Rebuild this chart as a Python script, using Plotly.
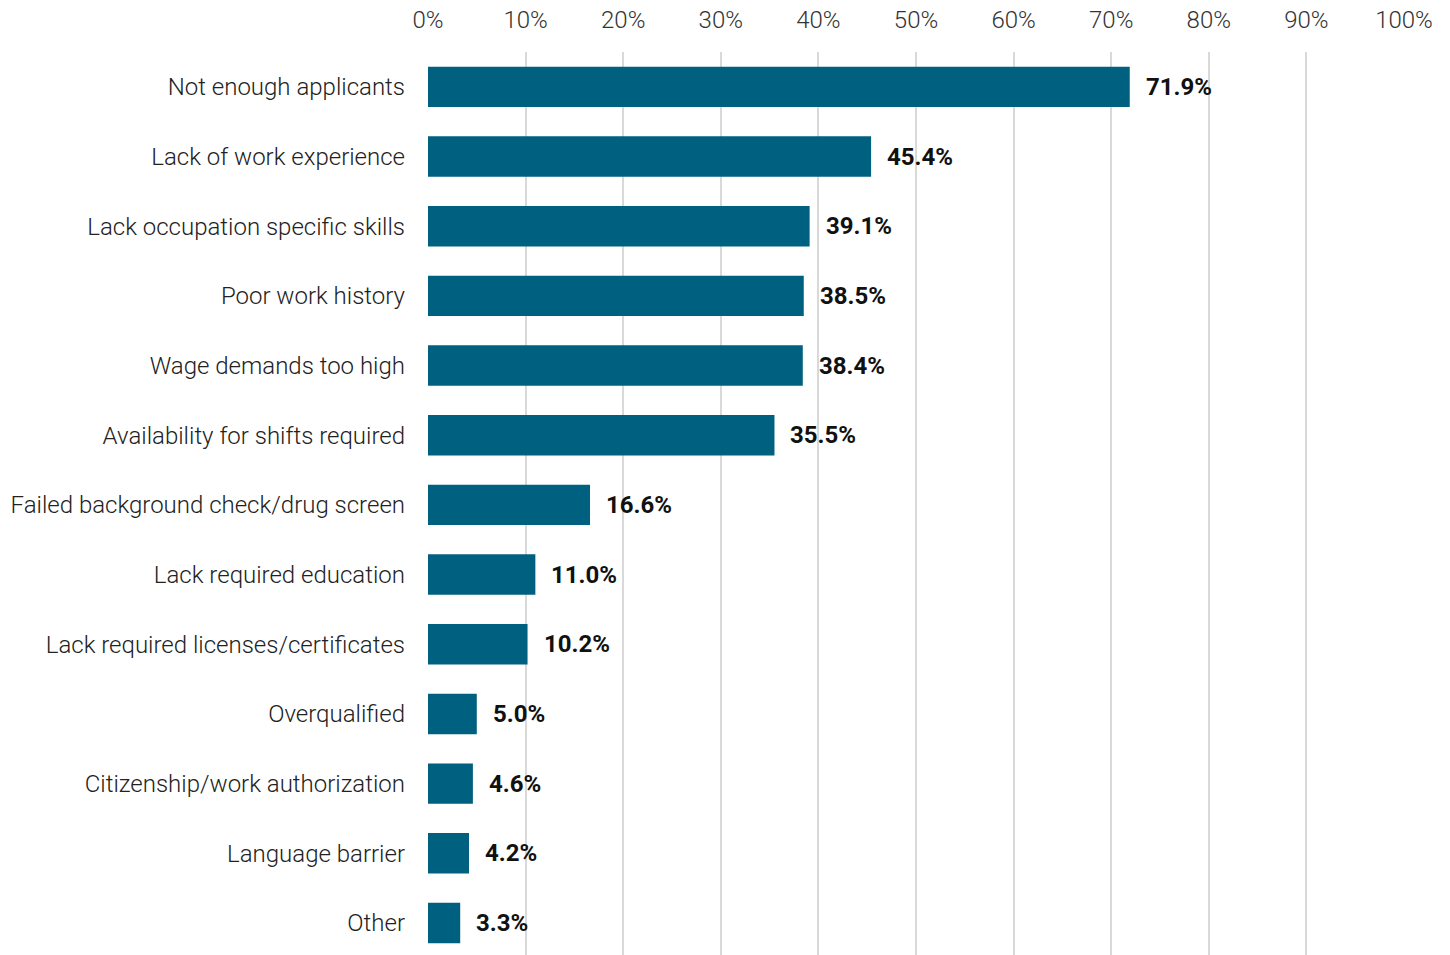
import plotly.graph_objects as go

categories = [
    "Not enough applicants",
    "Lack of work experience",
    "Lack occupation specific skills",
    "Poor work history",
    "Wage demands too high",
    "Availability for shifts required",
    "Failed background check/drug screen",
    "Lack required education",
    "Lack required licenses/certificates",
    "Overqualified",
    "Citizenship/work authorization",
    "Language barrier",
    "Other",
]
values = [71.9, 45.4, 39.1, 38.5, 38.4, 35.5, 16.6, 11.0, 10.2, 5.0, 4.6, 4.2, 3.3]
tick_vals = [0, 10, 20, 30, 40, 50, 60, 70, 80, 90, 100]
tick_text = [f"{v}%" for v in tick_vals]

BAR = "#00607f"

fig = go.Figure(
    go.Bar(
        x=values,
        y=categories,
        orientation="h",
        marker=dict(color=BAR, line=dict(width=0)),
        hoverinfo="skip",
    )
)

for c, v in zip(categories, values):
    fig.add_annotation(
        x=v, y=c, text=f"<b>{v:.1f}%</b>", showarrow=False,
        xanchor="left", xshift=14,
        font=dict(family="Roboto", size=24, color="#111111"),
    )

fig.update_layout(
    width=1450, height=955,
    margin=dict(l=428, r=46, t=52, b=0),
    paper_bgcolor="white", plot_bgcolor="white",
    bargap=0.42,
    showlegend=False,
    font=dict(family="Roboto", color="#222222"),
)
fig.update_xaxes(
    side="top", range=[0, 100], tickvals=tick_vals, ticktext=tick_text,
    showgrid=True, gridcolor="#d9d9d9", gridwidth=2, zeroline=False,
    showline=False, ticks="", ticklabelstandoff=18,
    tickfont=dict(family="Roboto", size=24, color="#333333", weight=300),
)
fig.update_yaxes(
    range=[len(categories) - 0.54, -0.5],
    showgrid=False, zeroline=False, showline=False,
    ticks="", ticklabelstandoff=22,
    tickfont=dict(family="Roboto", size=24, color="#222222", weight=300),
)

fig.write_html("out.html")
